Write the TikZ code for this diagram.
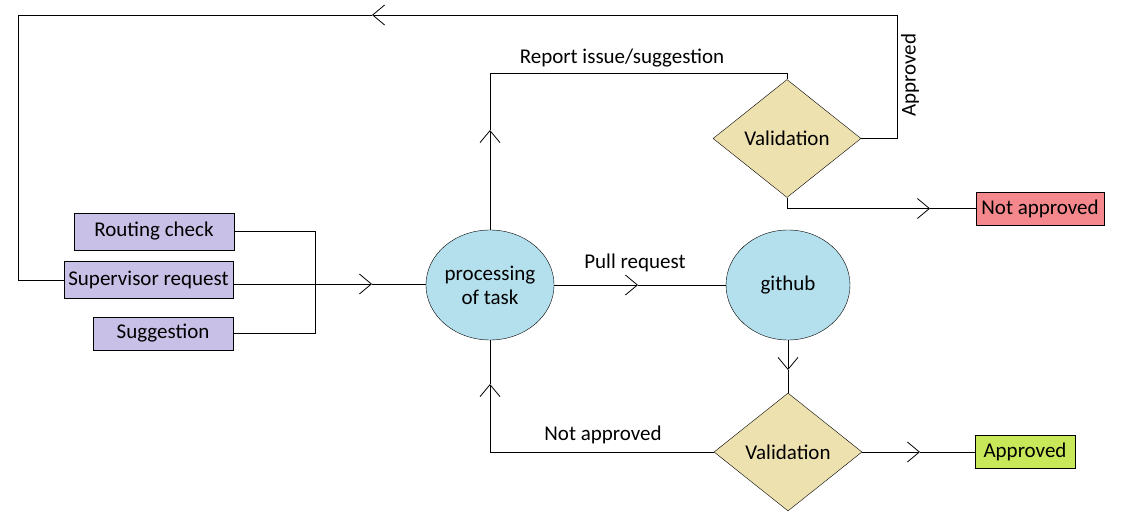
\documentclass[tikz,border=0pt]{standalone}
\usepackage{fontspec}
\setmainfont{Carlito}
\usepackage{tikz}
\usetikzlibrary{arrows.meta}
\usetikzlibrary{shapes.geometric}
\definecolor{lavender}{RGB}{200,192,230}
\definecolor{skyblue}{RGB}{180,224,238}
\definecolor{sand}{RGB}{238,225,176}
\definecolor{salmon}{RGB}{244,136,140}
\definecolor{lime}{RGB}{200,232,90}

\begin{document}
\begin{tikzpicture}[x=1pt, y=-1pt, >={Straight Barb[length=12pt,width=20pt]},
        every node/.style={font=\fontsize{21}{24}\selectfont},
        source/.style={draw, line width=0.9pt, fill=lavender, minimum height=37pt, inner sep=0pt},
        task/.style={draw, ellipse, fill=skyblue, minimum width=124pt, minimum height=110pt, align=center, inner sep=0pt},
        check/.style={draw, diamond, fill=sand, minimum width=148pt, minimum height=118pt, inner sep=0pt},
        result/.style={draw, line width=0.9pt, minimum height=33pt, inner sep=0pt},
        flow/.style={line width=0.8pt}]
        \useasboundingbox (0,0) rectangle (1147,526);
        \path 
        (315,284) coordinate (join)
        (372,284) coordinate (a1)
        (18,15) coordinate (tl)
        (897,15) coordinate (tr)
        (372,15) coordinate (a2)
        (490,130) coordinate (a3)
        (490,73) coordinate (rt)
        (930,208.5) coordinate (a4)
        (638,285) coordinate (a5)
        (788,370) coordinate (a6)
        (490,384) coordinate (a7)
        (920,452) coordinate (a8)
        ;
        \node[source, minimum width=160pt] (route) at (154,231.5) {Routing check};
        \node[source, minimum width=169pt] (sup) at (148.5,280) {Supervisor request};
        \node[source, minimum width=140pt, minimum height=33pt] (sugg) at (163,333.5) {Suggestion};
        \node[task] (proc) at (490,285) {processing\\of task};
        \node[task] (git) at (788,285) {github};
        \node[check] (valtop) at (787,138.5) {Validation};
        \node[check] (valbot) at (788,452) {Validation};
        \node[result, fill=salmon, minimum width=128pt] (notok) at (1040,208.5) {Not approved};
        \node[result, fill=lime, minimum width=100pt] (ok) at (1025,452) {Approved};

        \draw[flow] (route.east) -| (join);
        \draw[flow] (sugg.east) -| (join);
        \draw[flow,->] (sup.east |- join) -- (a1);
        \draw[flow] (a1) -- (proc.west |- a1);

        \draw[flow,->] (valtop.east) -| (tr) -- (a2);
        \draw[flow] (a2) -- (tl) |- (sup.west);
        \node[rotate=90] (approvedlabel) at (910,75) {Approved};

        \draw[flow,->] (proc.north) -- (a3);
        \draw[flow] (a3) -- (rt) -| (valtop.north);
        \node (reportlabel) at (622,58) {Report issue/suggestion};

        \draw[flow,->] (valtop.south) |- (a4);
        \draw[flow] (a4) -- (notok.west);

        \draw[flow,->] (proc.east) -- (a5);
        \draw[flow] (a5) -- (git.west);
        \node (pulllabel) at (635,263) {Pull request};

        \draw[flow,->] (git.south) -- (a6);
        \draw[flow] (a6) -- (valbot.north);

        \draw[flow,->] (valbot.west) -| (a7);
        \draw[flow] (a7) -- (proc.south);
        \node (notlabel) at (603,435) {Not approved};

        \draw[flow,->] (valbot.east) -- (a8);
        \draw[flow] (a8) -- (ok.west);
\end{tikzpicture}
\end{document}
